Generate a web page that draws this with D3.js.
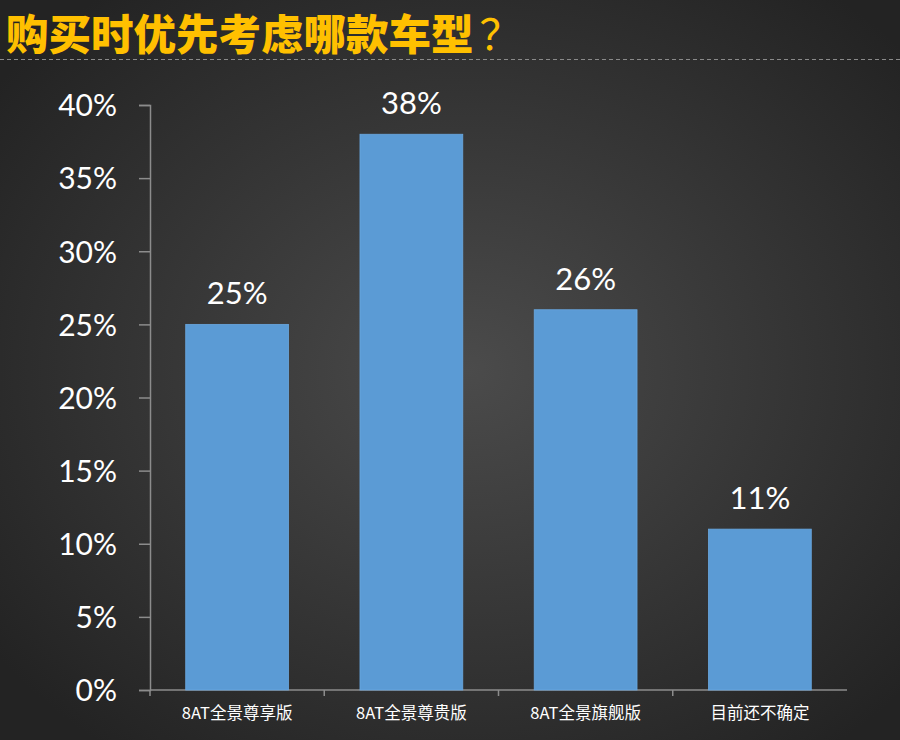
<!DOCTYPE html>
<html>
<head>
<meta charset="utf-8">
<script src="https://cdn.jsdelivr.net/npm/d3@7"></script>
<style>
  html, body { margin: 0; padding: 0; background: #2a2a2a; }
  svg { display: block; }
</style>
</head>
<body>
<div id="chart"></div>
<script>
// DATA
const categories = ["8AT全景尊享版", "8AT全景尊贵版", "8AT全景旗舰版", "目前还不确定"]
const shares = [25, 38, 26, 11]
const yTicks = [0, 5, 10, 15, 20, 25, 30, 35, 40]
const title = "购买时优先考虑哪款车型"

const width = 900, height = 740
const margin = {top: 105, right: 53, bottom: 50, left: 150}

const svg = d3.select("#chart")
  .append("svg")
  .attr("width", width)
  .attr("height", height)

// background gradient
const defs = svg.append("defs")
const grad = defs.append("radialGradient")
  .attr("id", "bg")
  .attr("cx", "52%").attr("cy", "50%").attr("r", "65%")
grad.append("stop").attr("offset", "0%").attr("stop-color", "#4b4b4b")
grad.append("stop").attr("offset", "100%").attr("stop-color", "#232323")

svg.append("rect")
  .attr("width", width).attr("height", height)
  .attr("fill", "url(#bg)")

// TITLE
const t = svg.append("text")
  .attr("x", 6).attr("y", 50)
  .attr("font-family", "'Noto Sans CJK SC', sans-serif")
  .attr("font-size", 42.5)
  .attr("font-weight", "900")
  .attr("fill", "#ffc000")
t.append("tspan").text(title)
t.append("tspan").attr("font-weight", "normal").attr("dx", 6).text("？")

svg.append("line")
  .attr("x1", 0).attr("x2", width)
  .attr("y1", 59.5).attr("y2", 59.5)
  .attr("stroke", "#8a8a8a")
  .attr("stroke-width", 1)
  .attr("stroke-dasharray", "4,3")

// SCALES
const xScale = d3.scaleBand()
  .domain(categories)
  .range([margin.left, width - margin.right])
  .paddingInner(0.41)
  .paddingOuter(0.205)

const yScale = d3.scaleLinear()
  .domain([0, 40])
  .range([height - margin.bottom, margin.top])

const axisColor = "#8c8c8c"

// Y AXIS
const yAxis = svg.append("g")
  .attr("transform", `translate(${margin.left},0)`)
  .call(d3.axisLeft(yScale)
    .tickValues(yTicks)
    .tickSize(11)
    .tickPadding(22)
    .tickFormat(d => d + "%"))
yAxis.select(".domain").attr("stroke", axisColor).attr("stroke-width", 1.5)
yAxis.selectAll(".tick line").attr("stroke", axisColor).attr("stroke-width", 1.5)
yAxis.selectAll(".tick text")
  .attr("fill", "#ffffff")
  .attr("font-family", "Lato, 'Open Sans', sans-serif")
  .attr("font-size", 30)
  .attr("dy", "0.36em")

// X AXIS
const xAxisG = svg.append("g")
  .attr("transform", `translate(0,${height - margin.bottom})`)
xAxisG.append("line")
  .attr("x1", margin.left).attr("x2", width - margin.right)
  .attr("stroke", axisColor).attr("stroke-width", 1.5)
const step = xScale.step()
xAxisG.selectAll(".sep")
  .data(categories)
  .join("line")
    .attr("class", "sep")
    .attr("x1", (d, i) => margin.left + i * step)
    .attr("x2", (d, i) => margin.left + i * step)
    .attr("y1", 0).attr("y2", 6)
    .attr("stroke", axisColor).attr("stroke-width", 1.5)
xAxisG.selectAll(".cat")
  .data(categories)
  .join("text")
    .attr("class", "cat")
    .attr("x", d => xScale(d) + xScale.bandwidth() / 2)
    .attr("y", 29)
    .attr("text-anchor", "middle")
    .attr("fill", "#ffffff")
    .attr("font-family", "'Noto Sans CJK SC', sans-serif")
    .attr("font-size", 16.5)
    .text(d => d)

// BARS
svg.selectAll("rect.bar")
  .data(shares)
  .join("rect")
    .attr("class", "bar")
    .attr("x", (d, i) => xScale(categories[i]))
    .attr("y", d => yScale(d))
    .attr("width", xScale.bandwidth())
    .attr("height", d => yScale(0) - yScale(d))
    .attr("fill", "#5b9bd5")
    .attr("stroke", "#6aa8e0")
    .attr("stroke-width", 0.8)

// VALUE LABELS
svg.selectAll("text.val")
  .data(shares)
  .join("text")
    .attr("class", "val")
    .attr("x", (d, i) => xScale(categories[i]) + xScale.bandwidth() / 2)
    .attr("y", d => yScale(d) - 20)
    .attr("text-anchor", "middle")
    .attr("fill", "#ffffff")
    .attr("font-family", "Lato, 'Open Sans', sans-serif")
    .attr("font-size", 31)
    .text(d => d + "%")
</script>
</body>
</html>
